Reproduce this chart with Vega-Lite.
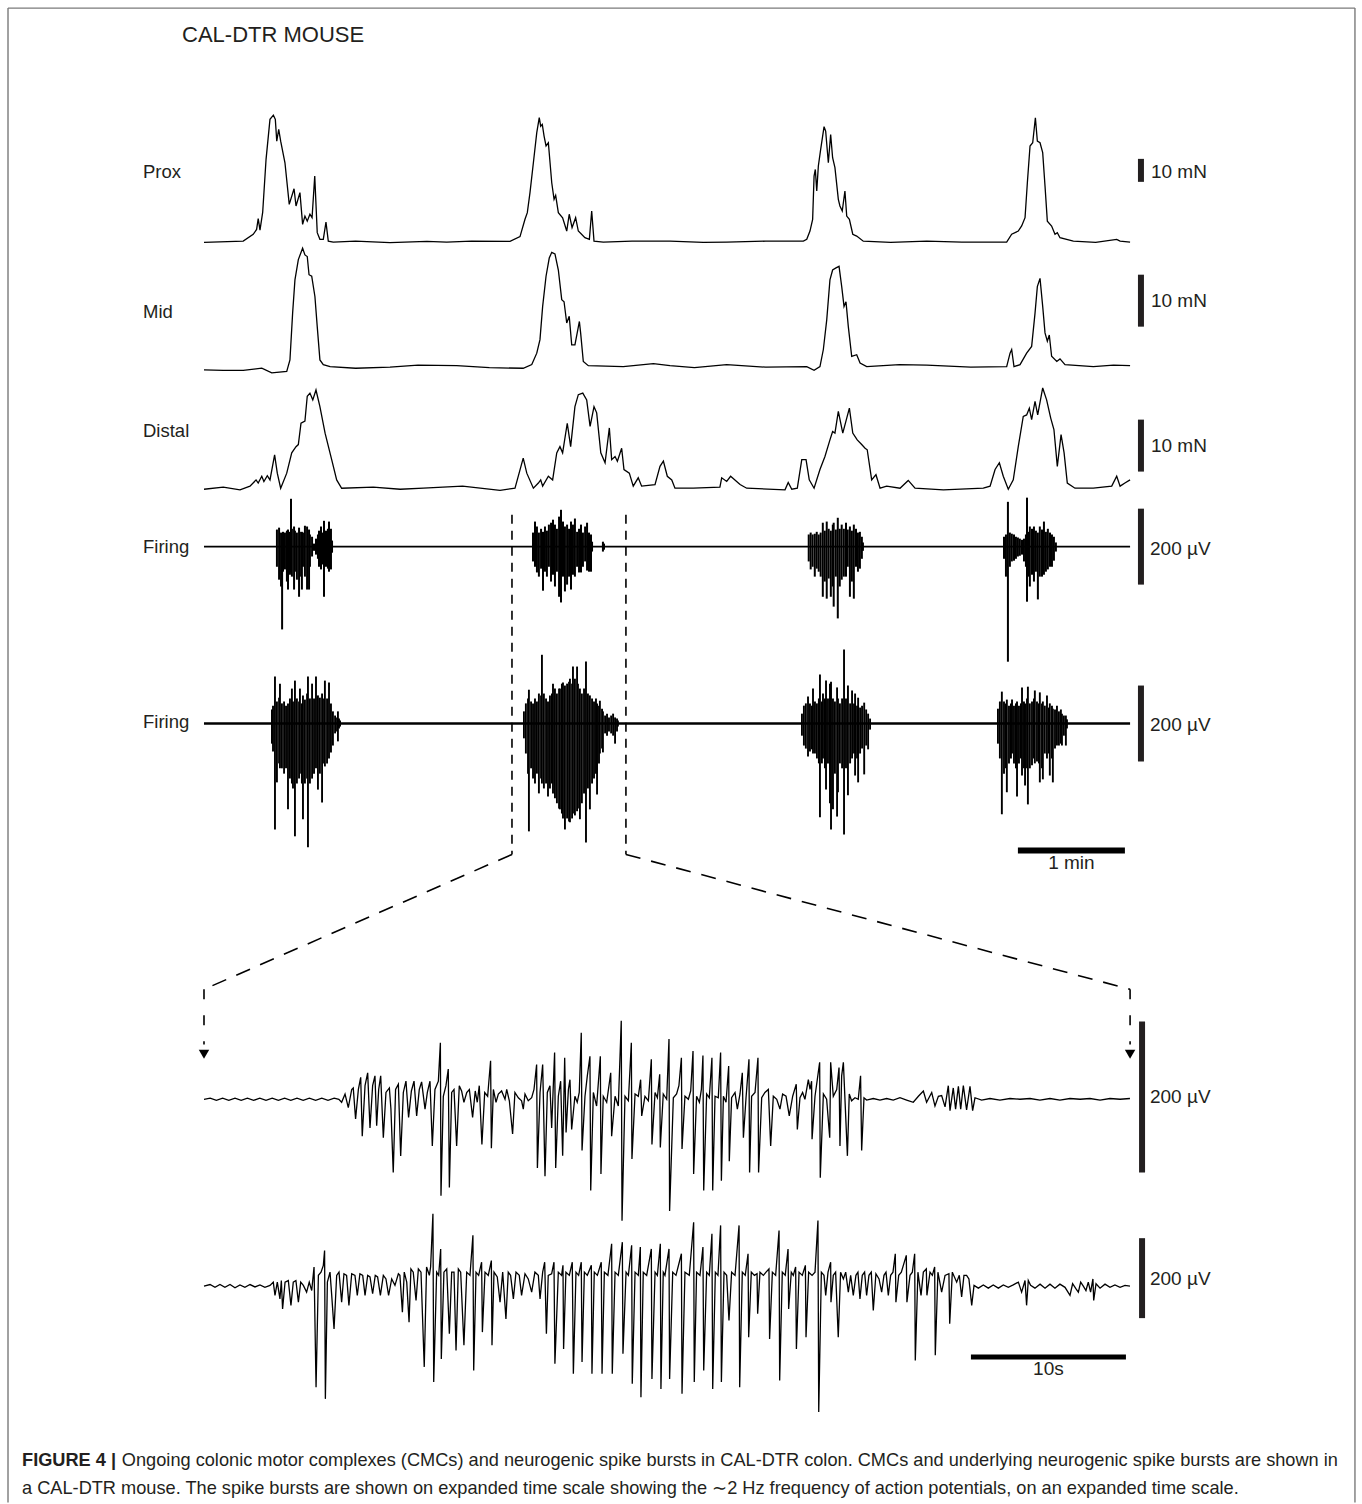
{
"$schema": "https://vega.github.io/schema/vega-lite/v6.json",
"width": 1362, "height": 1504,
"autosize": {"type": "fit", "contains": "padding"},
"padding": 0,
"background": "white",
"config": {"view": {"stroke": null}, "text": {"font": "Liberation Sans", "color": "#231f20"}},
"datasets": {
"prox": [{"t":0,"v":-0.2},{"t":22.0,"v":0.3},{"t":27.6,"v":3.3},{"t":29.5,"v":5.4},{"t":30.4,"v":10.1},{"t":31.4,"v":5.1},{"t":32.9,"v":12.8},{"t":34.8,"v":35.9},{"t":37.0,"v":53.3},{"t":38.9,"v":55.1},{"t":40.0,"v":53.3},{"t":40.8,"v":43.8},{"t":41.9,"v":48.9},{"t":43.0,"v":43.8},{"t":45.4,"v":34.4},{"t":47.8,"v":16.3},{"t":50.5,"v":23.1},{"t":51.6,"v":15.6},{"t":53.8,"v":21.4},{"t":55.3,"v":7.6},{"t":56.6,"v":11.2},{"t":57.9,"v":9.0},{"t":59.4,"v":12.0},{"t":60.6,"v":10.5},{"t":62.1,"v":28.6},{"t":63.5,"v":4.0},{"t":65.0,"v":1.1},{"t":66.9,"v":1.1},{"t":68.4,"v":8.6},{"t":69.7,"v":0.3},{"t":72.5,"v":-0.1},{"t":85,"v":0.3},{"t":104.3,"v":-0.3},{"t":125,"v":0.2},{"t":136.1,"v":-0.1},{"t":150,"v":0.3},{"t":171.6,"v":0.2},{"t":177.2,"v":2.3},{"t":180.0,"v":9.8},{"t":181.3,"v":12.7},{"t":182.8,"v":21.4},{"t":184.7,"v":34.4},{"t":186.6,"v":47.5},{"t":188.0,"v":54.0},{"t":188.8,"v":50.3},{"t":189.7,"v":51.1},{"t":190.7,"v":46.0},{"t":191.8,"v":41.7},{"t":193.1,"v":43.1},{"t":195.0,"v":25.7},{"t":196.3,"v":18.5},{"t":197.2,"v":20.2},{"t":198.7,"v":12.7},{"t":201.1,"v":10.5},{"t":203.4,"v":4.7},{"t":204.8,"v":12.0},{"t":206.4,"v":6.2},{"t":208.4,"v":10.5},{"t":209.9,"v":4.7},{"t":213.6,"v":1.8},{"t":216.1,"v":1.1},{"t":217.4,"v":13.4},{"t":218.7,"v":0.3},{"t":223.9,"v":-0.1},{"t":240,"v":0.3},{"t":261.3,"v":0.3},{"t":280,"v":-0.2},{"t":293.1,"v":-0.1},{"t":315,"v":0.3},{"t":336.1,"v":0.3},{"t":338.0,"v":1.1},{"t":339.8,"v":4.7},{"t":341.3,"v":9.8},{"t":342.1,"v":28.6},{"t":342.8,"v":31.5},{"t":343.6,"v":22.1},{"t":344.5,"v":33.0},{"t":345.8,"v":40.2},{"t":347.7,"v":50.1},{"t":348.6,"v":48.2},{"t":350.1,"v":34.4},{"t":351.4,"v":46.7},{"t":352.5,"v":36.6},{"t":353.8,"v":32.3},{"t":355.7,"v":18.5},{"t":356.6,"v":15.6},{"t":357.9,"v":13.4},{"t":359.4,"v":22.1},{"t":360.4,"v":11.2},{"t":361.9,"v":9.8},{"t":363.8,"v":3.3},{"t":366.0,"v":2.5},{"t":369.7,"v":0.3},{"t":385,"v":-0.2},{"t":405.3,"v":0.3},{"t":425,"v":-0.1},{"t":450.1,"v":-0.1},{"t":452.9,"v":3.3},{"t":456.6,"v":4.7},{"t":458.5,"v":6.9},{"t":460.4,"v":10.5},{"t":461.7,"v":25.7},{"t":463.2,"v":41.7},{"t":464.7,"v":43.1},{"t":466.2,"v":54.0},{"t":467.3,"v":43.8},{"t":468.8,"v":43.1},{"t":470.3,"v":38.8},{"t":471.6,"v":24.3},{"t":472.9,"v":9.0},{"t":475.3,"v":6.9},{"t":477.2,"v":3.3},{"t":478.5,"v":4.0},{"t":480.0,"v":1.8},{"t":487.5,"v":0.3},{"t":500,"v":-0.2},{"t":511.8,"v":1.1},{"t":513.7,"v":0.3},{"t":519.3,"v":-0.1}],
"mid": [{"t":0,"v":-0.2},{"t":10.8,"v":-0.3},{"t":22.0,"v":-0.3},{"t":32.4,"v":0.1},{"t":38.0,"v":-0.8},{"t":46.4,"v":-0.5},{"t":48.2,"v":1.7},{"t":49.7,"v":10.7},{"t":51.0,"v":17.1},{"t":52.9,"v":21.0},{"t":55.3,"v":23.2},{"t":56.6,"v":21.9},{"t":57.9,"v":21.6},{"t":58.9,"v":18.1},{"t":60.4,"v":17.8},{"t":62.2,"v":13.9},{"t":63.5,"v":8.1},{"t":65.0,"v":1.7},{"t":66.9,"v":0.8},{"t":70.7,"v":0.4},{"t":85,"v":0.1},{"t":104.3,"v":0.3},{"t":120,"v":0.7},{"t":141.7,"v":0.6},{"t":160,"v":0.2},{"t":179.0,"v":0.1},{"t":183.8,"v":0.8},{"t":186.6,"v":3.0},{"t":188.4,"v":5.6},{"t":189.9,"v":12.0},{"t":191.8,"v":17.8},{"t":193.6,"v":21.3},{"t":195.0,"v":22.4},{"t":196.8,"v":22.1},{"t":198.7,"v":19.0},{"t":200.6,"v":13.3},{"t":201.9,"v":12.9},{"t":203.4,"v":8.8},{"t":204.8,"v":10.1},{"t":206.2,"v":4.6},{"t":208.0,"v":4.6},{"t":210.5,"v":9.1},{"t":211.2,"v":6.9},{"t":212.7,"v":1.4},{"t":215.5,"v":0.6},{"t":235.1,"v":0.4},{"t":252.0,"v":1.0},{"t":261.3,"v":0.6},{"t":275,"v":0.2},{"t":293.1,"v":0.8},{"t":315,"v":0.3},{"t":338.0,"v":0.4},{"t":342.1,"v":-0.3},{"t":345.4,"v":0.4},{"t":347.3,"v":3.7},{"t":349.2,"v":9.4},{"t":351.0,"v":17.1},{"t":352.5,"v":19.0},{"t":354.4,"v":19.4},{"t":356.1,"v":19.7},{"t":357.6,"v":15.8},{"t":358.9,"v":12.0},{"t":360.0,"v":12.9},{"t":361.3,"v":8.1},{"t":363.2,"v":2.4},{"t":366.0,"v":2.7},{"t":367.9,"v":1.1},{"t":371.6,"v":0.4},{"t":390,"v":0.8},{"t":405.3,"v":0.7},{"t":430,"v":0.3},{"t":450.1,"v":0.4},{"t":452.0,"v":3.0},{"t":452.9,"v":3.7},{"t":454.2,"v":0.4},{"t":457.6,"v":0.8},{"t":461.3,"v":3.0},{"t":464.1,"v":4.3},{"t":466.0,"v":10.7},{"t":467.3,"v":15.8},{"t":468.8,"v":17.4},{"t":470.3,"v":12.0},{"t":471.6,"v":6.9},{"t":472.9,"v":5.3},{"t":474.0,"v":6.5},{"t":475.3,"v":2.4},{"t":478.2,"v":1.4},{"t":480.0,"v":1.9},{"t":482.8,"v":0.8},{"t":498.7,"v":0.4},{"t":510,"v":0.7},{"t":519.3,"v":0.6}],
"distal": [{"t":0,"v":-0.3},{"t":10.8,"v":0.1},{"t":20.2,"v":-0.4},{"t":25.8,"v":0.3},{"t":29.2,"v":1.5},{"t":30.4,"v":0.9},{"t":32.4,"v":2.2},{"t":33.6,"v":1.2},{"t":35.5,"v":2.3},{"t":37.0,"v":1.5},{"t":39.6,"v":6.3},{"t":41.1,"v":2.8},{"t":43.0,"v":-0.1},{"t":46.4,"v":2.8},{"t":49.2,"v":6.7},{"t":51.6,"v":7.9},{"t":52.9,"v":8.3},{"t":54.4,"v":12.4},{"t":56.6,"v":12.8},{"t":57.9,"v":17.6},{"t":59.4,"v":18.2},{"t":61.0,"v":16.9},{"t":62.8,"v":18.8},{"t":65.0,"v":15.6},{"t":67.9,"v":10.5},{"t":71.6,"v":5.4},{"t":74.4,"v":1.5},{"t":77.2,"v":-0.1},{"t":94.9,"v":0.1},{"t":110,"v":-0.3},{"t":123.0,"v":-0.1},{"t":145,"v":0.3},{"t":166.0,"v":-0.5},{"t":174.4,"v":-0.1},{"t":179.0,"v":5.7},{"t":181.0,"v":2.8},{"t":184.7,"v":-0.1},{"t":187.5,"v":0.9},{"t":188.8,"v":1.5},{"t":189.9,"v":0.3},{"t":193.1,"v":2.2},{"t":195.5,"v":1.5},{"t":197.8,"v":6.7},{"t":199.6,"v":7.9},{"t":201.1,"v":6.7},{"t":203.7,"v":12.4},{"t":205.6,"v":7.9},{"t":208.0,"v":15.6},{"t":209.9,"v":17.9},{"t":212.4,"v":18.2},{"t":214.6,"v":16.9},{"t":216.5,"v":11.8},{"t":218.7,"v":15.6},{"t":220.2,"v":14.4},{"t":222.5,"v":6.7},{"t":224.9,"v":4.8},{"t":227.3,"v":11.5},{"t":228.6,"v":5.4},{"t":230.5,"v":6.0},{"t":231.8,"v":5.1},{"t":234.2,"v":7.6},{"t":235.5,"v":3.5},{"t":238.5,"v":2.8},{"t":240.7,"v":0.3},{"t":243.5,"v":1.9},{"t":245.4,"v":0.3},{"t":252.9,"v":0.6},{"t":255.7,"v":4.1},{"t":257.6,"v":5.1},{"t":259.8,"v":2.2},{"t":262.3,"v":1.5},{"t":264.1,"v":-0.1},{"t":274.4,"v":-0.1},{"t":289.3,"v":0.1},{"t":290.3,"v":1.9},{"t":293.1,"v":1.2},{"t":295.3,"v":2.2},{"t":300.6,"v":0.6},{"t":304.3,"v":-0.1},{"t":325.8,"v":-0.4},{"t":327.6,"v":1.0},{"t":329.6,"v":-0.3},{"t":332.7,"v":-0.1},{"t":335.2,"v":5.4},{"t":337.6,"v":5.4},{"t":339.4,"v":1.5},{"t":342.1,"v":-0.1},{"t":345.4,"v":3.5},{"t":348.2,"v":6.0},{"t":351.0,"v":9.2},{"t":352.5,"v":10.8},{"t":353.8,"v":10.5},{"t":355.7,"v":14.7},{"t":358.2,"v":10.5},{"t":361.9,"v":15.3},{"t":363.8,"v":10.5},{"t":366.3,"v":9.2},{"t":368.8,"v":8.3},{"t":370.7,"v":7.6},{"t":371.9,"v":7.3},{"t":374.4,"v":1.5},{"t":376.8,"v":2.5},{"t":379.1,"v":-0.1},{"t":382.8,"v":0.3},{"t":390.3,"v":-0.1},{"t":394.9,"v":1.4},{"t":398.7,"v":-0.1},{"t":414.6,"v":-0.4},{"t":437.0,"v":-0.1},{"t":440.8,"v":0.3},{"t":443.6,"v":3.5},{"t":446.0,"v":4.8},{"t":448.2,"v":2.2},{"t":451.0,"v":-0.3},{"t":453.8,"v":1.5},{"t":456.6,"v":7.9},{"t":459.4,"v":13.7},{"t":461.3,"v":14.0},{"t":462.8,"v":15.3},{"t":464.1,"v":13.1},{"t":466.0,"v":16.6},{"t":467.5,"v":14.0},{"t":470.3,"v":19.2},{"t":472.5,"v":16.9},{"t":474.8,"v":13.4},{"t":476.6,"v":11.2},{"t":478.5,"v":4.1},{"t":480.6,"v":10.2},{"t":482.3,"v":6.7},{"t":484.1,"v":0.9},{"t":488.4,"v":-0.1},{"t":498.7,"v":-0.1},{"t":509.0,"v":0.3},{"t":511.8,"v":2.2},{"t":513.7,"v":0.3},{"t":516.4,"v":0.9},{"t":519.3,"v":1.5}],
"firing1": [{"t":40.9,"hi":45,"lo":-53},{"t":42.1,"hi":50,"lo":-87},{"t":43.2,"hi":37,"lo":-105},{"t":43.8,"hi":21,"lo":-218},{"t":44.3,"hi":39,"lo":-66},{"t":45.4,"hi":37,"lo":-60},{"t":46.5,"hi":42,"lo":-92},{"t":47.1,"hi":45,"lo":-113},{"t":48.2,"hi":39,"lo":-74},{"t":48.8,"hi":126,"lo":-68},{"t":49.3,"hi":47,"lo":-79},{"t":50.5,"hi":53,"lo":-113},{"t":51.0,"hi":42,"lo":-66},{"t":52.1,"hi":37,"lo":-87},{"t":53.3,"hi":50,"lo":-132},{"t":53.8,"hi":39,"lo":-79},{"t":54.9,"hi":39,"lo":-113},{"t":55.5,"hi":37,"lo":-53},{"t":56.6,"hi":55,"lo":-79},{"t":57.8,"hi":53,"lo":-113},{"t":58.9,"hi":45,"lo":-113},{"t":59.4,"hi":32,"lo":-53},{"t":60.6,"hi":26,"lo":-26},{"t":61.7,"hi":8,"lo":-11},{"t":62.8,"hi":21,"lo":-21},{"t":63.9,"hi":32,"lo":-32},{"t":64.5,"hi":42,"lo":-53},{"t":65.6,"hi":53,"lo":-60},{"t":66.7,"hi":37,"lo":-47},{"t":67.3,"hi":68,"lo":-132},{"t":68.4,"hi":42,"lo":-53},{"t":69.5,"hi":47,"lo":-58},{"t":70.1,"hi":66,"lo":-66},{"t":71.2,"hi":47,"lo":-60},{"t":71.8,"hi":16,"lo":-16},
{"t":184.5,"hi":37,"lo":-39},{"t":185.6,"hi":66,"lo":-53},{"t":186.7,"hi":53,"lo":-68},{"t":187.8,"hi":37,"lo":-79},{"t":189.0,"hi":47,"lo":-58},{"t":190.1,"hi":39,"lo":-116},{"t":191.2,"hi":53,"lo":-66},{"t":192.3,"hi":42,"lo":-79},{"t":193.4,"hi":58,"lo":-53},{"t":194.6,"hi":63,"lo":-92},{"t":195.7,"hi":71,"lo":-74},{"t":196.8,"hi":58,"lo":-105},{"t":197.9,"hi":47,"lo":-66},{"t":199.1,"hi":79,"lo":-132},{"t":200.2,"hi":97,"lo":-147},{"t":201.3,"hi":66,"lo":-79},{"t":202.4,"hi":53,"lo":-118},{"t":203.6,"hi":58,"lo":-100},{"t":204.7,"hi":47,"lo":-79},{"t":205.8,"hi":66,"lo":-113},{"t":206.9,"hi":58,"lo":-74},{"t":208.0,"hi":74,"lo":-79},{"t":209.2,"hi":39,"lo":-53},{"t":210.3,"hi":47,"lo":-68},{"t":211.4,"hi":58,"lo":-68},{"t":212.5,"hi":37,"lo":-53},{"t":213.7,"hi":53,"lo":-39},{"t":214.8,"hi":63,"lo":-63},{"t":215.9,"hi":37,"lo":-66},{"t":217.0,"hi":32,"lo":-66},{"t":217.6,"hi":13,"lo":-13},{"t":223.7,"hi":13,"lo":-13},{"t":224.3,"hi":8,"lo":-8},
{"t":339.1,"hi":32,"lo":-39},{"t":340.2,"hi":37,"lo":-60},{"t":341.3,"hi":32,"lo":-53},{"t":342.5,"hi":34,"lo":-79},{"t":343.6,"hi":39,"lo":-58},{"t":344.7,"hi":32,"lo":-66},{"t":345.8,"hi":37,"lo":-79},{"t":347.0,"hi":63,"lo":-132},{"t":348.1,"hi":42,"lo":-92},{"t":349.2,"hi":66,"lo":-137},{"t":350.3,"hi":47,"lo":-84},{"t":351.5,"hi":42,"lo":-132},{"t":352.6,"hi":58,"lo":-105},{"t":353.1,"hi":63,"lo":-158},{"t":354.3,"hi":45,"lo":-79},{"t":355.4,"hi":76,"lo":-189},{"t":356.5,"hi":47,"lo":-105},{"t":357.6,"hi":58,"lo":-87},{"t":358.8,"hi":47,"lo":-79},{"t":360.0,"hi":63,"lo":-79},{"t":361.0,"hi":45,"lo":-53},{"t":362.2,"hi":53,"lo":-132},{"t":363.3,"hi":42,"lo":-92},{"t":364.4,"hi":58,"lo":-137},{"t":365.6,"hi":47,"lo":-53},{"t":366.7,"hi":37,"lo":-66},{"t":367.8,"hi":39,"lo":-58},{"t":368.9,"hi":26,"lo":-32},{"t":369.5,"hi":11,"lo":-11},
{"t":448.6,"hi":26,"lo":-32},{"t":449.7,"hi":32,"lo":-79},{"t":450.8,"hi":118,"lo":-303},{"t":451.9,"hi":37,"lo":-53},{"t":453.0,"hi":34,"lo":-39},{"t":454.2,"hi":32,"lo":-37},{"t":455.3,"hi":26,"lo":-32},{"t":456.4,"hi":24,"lo":-26},{"t":457.5,"hi":21,"lo":-24},{"t":458.7,"hi":18,"lo":-21},{"t":459.8,"hi":21,"lo":-39},{"t":460.9,"hi":32,"lo":-53},{"t":461.5,"hi":129,"lo":-145},{"t":462.6,"hi":39,"lo":-79},{"t":463.1,"hi":53,"lo":-105},{"t":464.3,"hi":47,"lo":-74},{"t":465.4,"hi":53,"lo":-92},{"t":466.5,"hi":42,"lo":-66},{"t":467.6,"hi":37,"lo":-139},{"t":468.7,"hi":53,"lo":-79},{"t":469.9,"hi":45,"lo":-79},{"t":471.0,"hi":66,"lo":-74},{"t":472.1,"hi":39,"lo":-66},{"t":473.2,"hi":47,"lo":-60},{"t":474.4,"hi":37,"lo":-53},{"t":475.5,"hi":32,"lo":-53},{"t":476.6,"hi":26,"lo":-37},{"t":477.7,"hi":11,"lo":-13}],
"firing2": [{"t":38.1,"hi":37,"lo":-53},{"t":38.7,"hi":47,"lo":-74},{"t":39.8,"hi":124,"lo":-279},{"t":40.9,"hi":58,"lo":-155},{"t":42.1,"hi":68,"lo":-105},{"t":42.6,"hi":105,"lo":-118},{"t":43.7,"hi":53,"lo":-118},{"t":44.9,"hi":58,"lo":-132},{"t":46.0,"hi":47,"lo":-118},{"t":47.1,"hi":53,"lo":-226},{"t":48.2,"hi":66,"lo":-145},{"t":49.3,"hi":92,"lo":-158},{"t":49.9,"hi":58,"lo":-171},{"t":51.0,"hi":113,"lo":-297},{"t":52.1,"hi":66,"lo":-158},{"t":53.3,"hi":58,"lo":-145},{"t":53.8,"hi":92,"lo":-132},{"t":54.9,"hi":53,"lo":-158},{"t":55.5,"hi":74,"lo":-252},{"t":56.6,"hi":63,"lo":-158},{"t":57.8,"hi":79,"lo":-145},{"t":58.3,"hi":124,"lo":-326},{"t":59.4,"hi":66,"lo":-158},{"t":60.6,"hi":105,"lo":-145},{"t":61.7,"hi":66,"lo":-132},{"t":62.8,"hi":124,"lo":-118},{"t":63.9,"hi":74,"lo":-174},{"t":65.0,"hi":68,"lo":-132},{"t":66.2,"hi":79,"lo":-208},{"t":67.3,"hi":66,"lo":-105},{"t":67.8,"hi":113,"lo":-113},{"t":69.0,"hi":66,"lo":-105},{"t":70.1,"hi":108,"lo":-92},{"t":71.2,"hi":53,"lo":-76},{"t":72.3,"hi":32,"lo":-58},{"t":73.5,"hi":21,"lo":-26},{"t":74.6,"hi":16,"lo":-21},{"t":75.1,"hi":32,"lo":-47},{"t":75.7,"hi":13,"lo":-13},{"t":76.3,"hi":8,"lo":-8},
{"t":179.4,"hi":32,"lo":-39},{"t":180.5,"hi":53,"lo":-79},{"t":181.7,"hi":66,"lo":-132},{"t":182.2,"hi":89,"lo":-284},{"t":183.4,"hi":58,"lo":-118},{"t":184.5,"hi":53,"lo":-145},{"t":185.6,"hi":66,"lo":-158},{"t":186.7,"hi":58,"lo":-132},{"t":187.8,"hi":79,"lo":-184},{"t":189.0,"hi":74,"lo":-145},{"t":189.5,"hi":181,"lo":-158},{"t":190.6,"hi":79,"lo":-171},{"t":191.8,"hi":66,"lo":-158},{"t":192.9,"hi":58,"lo":-192},{"t":194.0,"hi":74,"lo":-171},{"t":195.1,"hi":79,"lo":-158},{"t":195.7,"hi":105,"lo":-184},{"t":196.8,"hi":92,"lo":-197},{"t":197.9,"hi":79,"lo":-210},{"t":199.1,"hi":92,"lo":-224},{"t":199.6,"hi":92,"lo":-226},{"t":200.7,"hi":105,"lo":-237},{"t":201.3,"hi":108,"lo":-250},{"t":202.4,"hi":100,"lo":-279},{"t":203.6,"hi":105,"lo":-250},{"t":204.7,"hi":110,"lo":-258},{"t":205.2,"hi":118,"lo":-260},{"t":206.4,"hi":105,"lo":-250},{"t":206.9,"hi":150,"lo":-237},{"t":208.0,"hi":118,"lo":-242},{"t":209.2,"hi":150,"lo":-231},{"t":209.7,"hi":105,"lo":-224},{"t":210.8,"hi":92,"lo":-252},{"t":211.9,"hi":79,"lo":-210},{"t":213.1,"hi":92,"lo":-184},{"t":214.2,"hi":163,"lo":-313},{"t":215.3,"hi":79,"lo":-171},{"t":216.4,"hi":74,"lo":-226},{"t":217.6,"hi":66,"lo":-158},{"t":218.7,"hi":58,"lo":-145},{"t":219.8,"hi":66,"lo":-132},{"t":220.4,"hi":53,"lo":-187},{"t":221.5,"hi":47,"lo":-105},{"t":222.0,"hi":60,"lo":-79},{"t":223.2,"hi":39,"lo":-66},{"t":223.7,"hi":32,"lo":-76},{"t":224.9,"hi":21,"lo":-26},{"t":226.0,"hi":26,"lo":-32},{"t":227.1,"hi":16,"lo":-21},{"t":228.3,"hi":21,"lo":-26},{"t":229.4,"hi":26,"lo":-32},{"t":230.5,"hi":16,"lo":-53},{"t":231.6,"hi":13,"lo":-21},{"t":232.1,"hi":8,"lo":-8},
{"t":335.3,"hi":26,"lo":-32},{"t":336.4,"hi":47,"lo":-58},{"t":337.5,"hi":53,"lo":-66},{"t":338.7,"hi":71,"lo":-87},{"t":339.8,"hi":53,"lo":-74},{"t":340.9,"hi":47,"lo":-68},{"t":341.5,"hi":92,"lo":-79},{"t":342.6,"hi":58,"lo":-79},{"t":343.7,"hi":53,"lo":-92},{"t":344.8,"hi":66,"lo":-105},{"t":345.4,"hi":129,"lo":-247},{"t":346.5,"hi":58,"lo":-105},{"t":347.1,"hi":79,"lo":-92},{"t":348.2,"hi":66,"lo":-118},{"t":348.8,"hi":113,"lo":-174},{"t":349.9,"hi":66,"lo":-105},{"t":351.0,"hi":105,"lo":-210},{"t":351.6,"hi":110,"lo":-279},{"t":352.7,"hi":66,"lo":-226},{"t":353.8,"hi":58,"lo":-132},{"t":355.0,"hi":95,"lo":-245},{"t":355.5,"hi":66,"lo":-181},{"t":356.6,"hi":53,"lo":-105},{"t":357.8,"hi":66,"lo":-118},{"t":358.9,"hi":195,"lo":-292},{"t":360.0,"hi":66,"lo":-118},{"t":361.1,"hi":100,"lo":-189},{"t":362.3,"hi":53,"lo":-105},{"t":363.4,"hi":87,"lo":-92},{"t":364.5,"hi":53,"lo":-79},{"t":365.1,"hi":79,"lo":-137},{"t":366.2,"hi":47,"lo":-92},{"t":366.8,"hi":68,"lo":-155},{"t":367.9,"hi":42,"lo":-79},{"t":369.0,"hi":47,"lo":-66},{"t":370.2,"hi":55,"lo":-134},{"t":371.3,"hi":37,"lo":-58},{"t":372.4,"hi":26,"lo":-68},{"t":373.5,"hi":13,"lo":-16},
{"t":445.2,"hi":39,"lo":-53},{"t":446.3,"hi":58,"lo":-92},{"t":447.4,"hi":84,"lo":-239},{"t":448.6,"hi":58,"lo":-132},{"t":449.7,"hi":53,"lo":-118},{"t":450.2,"hi":63,"lo":-181},{"t":451.4,"hi":47,"lo":-105},{"t":452.5,"hi":53,"lo":-92},{"t":453.1,"hi":63,"lo":-79},{"t":454.2,"hi":47,"lo":-105},{"t":455.3,"hi":53,"lo":-118},{"t":455.9,"hi":58,"lo":-192},{"t":457.0,"hi":47,"lo":-105},{"t":458.1,"hi":53,"lo":-92},{"t":458.7,"hi":95,"lo":-137},{"t":459.8,"hi":58,"lo":-118},{"t":460.4,"hi":53,"lo":-163},{"t":461.5,"hi":66,"lo":-118},{"t":462.0,"hi":97,"lo":-213},{"t":463.1,"hi":53,"lo":-118},{"t":464.3,"hi":58,"lo":-110},{"t":465.4,"hi":66,"lo":-92},{"t":465.9,"hi":87,"lo":-105},{"t":467.1,"hi":58,"lo":-100},{"t":468.2,"hi":53,"lo":-105},{"t":468.7,"hi":82,"lo":-155},{"t":469.9,"hi":53,"lo":-118},{"t":470.4,"hi":58,"lo":-147},{"t":471.5,"hi":47,"lo":-79},{"t":472.7,"hi":74,"lo":-92},{"t":473.8,"hi":42,"lo":-79},{"t":474.3,"hi":53,"lo":-137},{"t":475.5,"hi":47,"lo":-92},{"t":476.0,"hi":39,"lo":-155},{"t":477.2,"hi":37,"lo":-66},{"t":478.3,"hi":47,"lo":-58},{"t":479.4,"hi":32,"lo":-58},{"t":480.5,"hi":37,"lo":-53},{"t":481.1,"hi":26,"lo":-58},{"t":482.2,"hi":21,"lo":-32},{"t":483.3,"hi":21,"lo":-58},{"t":483.9,"hi":11,"lo":-13}],
"exp1": [{"t":0,"v":0},{"t":0.4,"v":1.5},{"t":0.8,"v":-1.5},{"t":1.2,"v":1.5},{"t":1.6,"v":-1.5},{"t":2.0,"v":1.5},{"t":2.4,"v":-1.5},{"t":2.8,"v":1.5},{"t":3.2,"v":-1.5},{"t":3.6,"v":1.5},{"t":4.0,"v":-1.5},{"t":4.4,"v":1.5},{"t":4.8,"v":-1.5},{"t":5.2,"v":1.5},{"t":5.6,"v":-1.5},{"t":6.0,"v":1.5},{"t":6.4,"v":-1.5},{"t":6.8,"v":1.5},{"t":7.2,"v":-1.5},{"t":7.6,"v":1.5},{"t":8.0,"v":-1.5},{"t":8.4,"v":1.5},{"t":8.7,"v":0},
{"t":8.88,"v":-4},{"t":9.10,"v":7},{"t":9.31,"v":-11},{"t":9.53,"v":13},{"t":9.63,"v":15},{"t":9.78,"v":-26},{"t":9.96,"v":13},{"t":10.11,"v":29},{"t":10.21,"v":-49},{"t":10.39,"v":18},{"t":10.56,"v":35},{"t":10.71,"v":-38},{"t":10.88,"v":18},{"t":11.03,"v":31},{"t":11.14,"v":-35},{"t":11.27,"v":13},{"t":11.40,"v":31},{"t":11.57,"v":-51},{"t":11.74,"v":9},{"t":11.96,"v":15},{"t":12.06,"v":-13},{"t":12.21,"v":-97},{"t":12.36,"v":13},{"t":12.54,"v":20},{"t":12.69,"v":-75},{"t":12.86,"v":9},{"t":13.03,"v":24},{"t":13.20,"v":-24},{"t":13.38,"v":11},{"t":13.55,"v":24},{"t":13.72,"v":-22},{"t":13.89,"v":13},{"t":14.04,"v":23},{"t":14.26,"v":-13},{"t":14.41,"v":9},{"t":14.58,"v":24},{"t":14.73,"v":-62},{"t":14.90,"v":13},{"t":15.12,"v":24},{"t":15.25,"v":75},{"t":15.29,"v":-128},{"t":15.44,"v":4},{"t":15.61,"v":18},{"t":15.76,"v":40},{"t":15.83,"v":-117},{"t":15.98,"v":9},{"t":16.13,"v":13},{"t":16.30,"v":-62},{"t":16.47,"v":18},{"t":16.62,"v":11},{"t":16.77,"v":-4},{"t":16.95,"v":9},{"t":17.12,"v":13},{"t":17.33,"v":-24},{"t":17.50,"v":11},{"t":17.63,"v":-4},{"t":17.76,"v":18},{"t":17.93,"v":-60},{"t":18.11,"v":9},{"t":18.30,"v":4},{"t":18.49,"v":51},{"t":18.54,"v":-65},{"t":18.67,"v":13},{"t":18.84,"v":-4},{"t":18.99,"v":7},{"t":19.20,"v":11},{"t":19.42,"v":0},{"t":19.53,"v":13},{"t":19.70,"v":-2},{"t":19.91,"v":-46},{"t":20.06,"v":9},{"t":20.28,"v":2},{"t":20.49,"v":-2},{"t":20.60,"v":-13},{"t":20.71,"v":7},{"t":20.92,"v":-2},{"t":21.14,"v":2},{"t":21.29,"v":13},{"t":21.46,"v":46},{"t":21.51,"v":-91},{"t":21.68,"v":9},{"t":21.85,"v":46},{"t":22.00,"v":-102},{"t":22.15,"v":9},{"t":22.32,"v":18},{"t":22.43,"v":-38},{"t":22.62,"v":62},{"t":22.69,"v":-91},{"t":22.86,"v":4},{"t":23.01,"v":24},{"t":23.14,"v":-75},{"t":23.27,"v":55},{"t":23.36,"v":-44},{"t":23.51,"v":13},{"t":23.61,"v":26},{"t":23.72,"v":-40},{"t":23.93,"v":4},{"t":24.08,"v":-4},{"t":24.21,"v":9},{"t":24.34,"v":88},{"t":24.39,"v":-68},{"t":24.58,"v":4},{"t":24.73,"v":31},{"t":24.90,"v":57},{"t":24.95,"v":-121},{"t":25.12,"v":9},{"t":25.33,"v":-9},{"t":25.57,"v":57},{"t":25.61,"v":-99},{"t":25.76,"v":4},{"t":25.98,"v":-4},{"t":26.24,"v":35},{"t":26.30,"v":-49},{"t":26.52,"v":4},{"t":26.73,"v":-9},{"t":26.92,"v":104},{"t":26.97,"v":-161},{"t":27.16,"v":4},{"t":27.38,"v":-2},{"t":27.57,"v":75},{"t":27.61,"v":-79},{"t":27.81,"v":7},{"t":28.02,"v":4},{"t":28.17,"v":26},{"t":28.24,"v":-22},{"t":28.45,"v":4},{"t":28.67,"v":-2},{"t":28.86,"v":53},{"t":28.90,"v":-60},{"t":29.10,"v":9},{"t":29.25,"v":2},{"t":29.40,"v":33},{"t":29.44,"v":-64},{"t":29.63,"v":7},{"t":29.85,"v":0},{"t":30.00,"v":80},{"t":30.04,"v":-148},{"t":30.28,"v":2},{"t":30.49,"v":7},{"t":30.64,"v":18},{"t":30.80,"v":55},{"t":30.84,"v":-66},{"t":31.03,"v":4},{"t":31.25,"v":0},{"t":31.40,"v":11},{"t":31.55,"v":64},{"t":31.59,"v":-99},{"t":31.78,"v":4},{"t":31.96,"v":-4},{"t":32.09,"v":13},{"t":32.19,"v":58},{"t":32.24,"v":-121},{"t":32.43,"v":7},{"t":32.60,"v":2},{"t":32.77,"v":55},{"t":32.82,"v":-121},{"t":32.97,"v":4},{"t":33.18,"v":2},{"t":33.33,"v":62},{"t":33.38,"v":-108},{"t":33.51,"v":4},{"t":33.68,"v":-4},{"t":33.85,"v":44},{"t":33.89,"v":-82},{"t":34.04,"v":2},{"t":34.26,"v":9},{"t":34.41,"v":-13},{"t":34.58,"v":7},{"t":34.73,"v":35},{"t":34.80,"v":-51},{"t":34.97,"v":2},{"t":35.16,"v":53},{"t":35.20,"v":-97},{"t":35.33,"v":4},{"t":35.55,"v":9},{"t":35.74,"v":55},{"t":35.78,"v":-97},{"t":35.98,"v":2},{"t":36.19,"v":9},{"t":36.41,"v":13},{"t":36.56,"v":-62},{"t":36.73,"v":4},{"t":36.95,"v":0},{"t":37.16,"v":-13},{"t":37.33,"v":7},{"t":37.55,"v":4},{"t":37.76,"v":-22},{"t":37.98,"v":4},{"t":38.21,"v":20},{"t":38.28,"v":-40},{"t":38.45,"v":2},{"t":38.62,"v":9},{"t":38.77,"v":0},{"t":38.99,"v":26},{"t":39.10,"v":13},{"t":39.20,"v":24},{"t":39.23,"v":-53},{"t":39.42,"v":4},{"t":39.72,"v":49},{"t":39.76,"v":-104},{"t":39.96,"v":7},{"t":40.17,"v":0},{"t":40.37,"v":-51},{"t":40.43,"v":49},{"t":40.60,"v":4},{"t":40.82,"v":13},{"t":40.97,"v":42},{"t":41.03,"v":-62},{"t":41.14,"v":31},{"t":41.25,"v":49},{"t":41.51,"v":-75},{"t":41.63,"v":7},{"t":41.78,"v":-2},{"t":42.00,"v":2},{"t":42.21,"v":0},{"t":42.36,"v":31},{"t":42.43,"v":-68},{"t":42.58,"v":2},{"t":42.75,"v":-1},{"t":43.18,"v":1},{"t":43.61,"v":-1},{"t":44.04,"v":1},{"t":44.47,"v":-1},{"t":44.90,"v":2},{"t":45.33,"v":-1},{"t":45.76,"v":-4},{"t":46.09,"v":4},{"t":46.41,"v":11},{"t":46.62,"v":-4},{"t":46.95,"v":9},{"t":47.16,"v":-9},{"t":47.38,"v":4},{"t":47.59,"v":5},{"t":47.81,"v":-10},{"t":48.02,"v":18},{"t":48.13,"v":-15},{"t":48.34,"v":15},{"t":48.49,"v":-13},{"t":48.67,"v":17},{"t":48.82,"v":-13},{"t":48.99,"v":18},{"t":49.20,"v":-14},{"t":49.42,"v":17},{"t":49.59,"v":-15},{"t":49.74,"v":2},{"t":50.17,"v":-1},{"t":50.71,"v":1},{"t":51.35,"v":-1},{"t":52.00,"v":1},{"t":52.64,"v":0},{"t":53.29,"v":1},{"t":53.93,"v":-1},{"t":54.58,"v":1},{"t":55.22,"v":-1},{"t":55.87,"v":1},{"t":56.52,"v":0},{"t":57.16,"v":1},{"t":57.81,"v":-1},{"t":58.45,"v":1},{"t":59.10,"v":0},{"t":59.74,"v":1}],
"exp2": [{"t":0,"v":0},{"t":0.39,"v":4},{"t":0.71,"v":-3},{"t":1.03,"v":4},{"t":1.35,"v":-3},{"t":1.68,"v":4},{"t":2.0,"v":-4},{"t":2.32,"v":3},{"t":2.64,"v":-3},{"t":2.97,"v":4},{"t":3.29,"v":-2},{"t":3.61,"v":3},{"t":3.93,"v":-3},{"t":4.26,"v":2},
{"t":4.47,"v":10},{"t":4.58,"v":-23},{"t":4.73,"v":10},{"t":4.90,"v":-32},{"t":4.99,"v":14},{"t":5.07,"v":-57},{"t":5.23,"v":10},{"t":5.44,"v":14},{"t":5.61,"v":-48},{"t":5.76,"v":10},{"t":5.93,"v":14},{"t":6.09,"v":-40},{"t":6.24,"v":10},{"t":6.41,"v":2},{"t":6.62,"v":-15},{"t":6.79,"v":10},{"t":6.95,"v":-11},{"t":7.10,"v":48},{"t":7.23,"v":-253},{"t":7.38,"v":27},{"t":7.55,"v":35},{"t":7.70,"v":52},{"t":7.78,"v":89},{"t":7.83,"v":-282},{"t":7.96,"v":10},{"t":8.13,"v":35},{"t":8.24,"v":-23},{"t":8.39,"v":-107},{"t":8.56,"v":27},{"t":8.71,"v":35},{"t":8.88,"v":-40},{"t":9.03,"v":31},{"t":9.20,"v":27},{"t":9.35,"v":-48},{"t":9.53,"v":31},{"t":9.74,"v":27},{"t":9.89,"v":-23},{"t":10.06,"v":31},{"t":10.24,"v":27},{"t":10.39,"v":-23},{"t":10.56,"v":27},{"t":10.71,"v":23},{"t":10.88,"v":-19},{"t":11.05,"v":27},{"t":11.20,"v":23},{"t":11.38,"v":-23},{"t":11.57,"v":27},{"t":11.74,"v":18},{"t":11.91,"v":-23},{"t":12.11,"v":18},{"t":12.32,"v":2},{"t":12.54,"v":31},{"t":12.64,"v":27},{"t":12.80,"v":-65},{"t":12.92,"v":35},{"t":13.08,"v":10},{"t":13.23,"v":-90},{"t":13.35,"v":43},{"t":13.50,"v":35},{"t":13.68,"v":-36},{"t":13.83,"v":43},{"t":14.00,"v":35},{"t":14.21,"v":-202},{"t":14.36,"v":48},{"t":14.54,"v":27},{"t":14.62,"v":48},{"t":14.77,"v":181},{"t":14.82,"v":-240},{"t":15.01,"v":35},{"t":15.14,"v":27},{"t":15.27,"v":93},{"t":15.31,"v":-182},{"t":15.48,"v":35},{"t":15.66,"v":43},{"t":15.83,"v":-119},{"t":15.98,"v":35},{"t":16.13,"v":35},{"t":16.26,"v":-161},{"t":16.41,"v":43},{"t":16.56,"v":35},{"t":16.77,"v":-148},{"t":16.95,"v":35},{"t":17.16,"v":27},{"t":17.35,"v":127},{"t":17.40,"v":-211},{"t":17.55,"v":35},{"t":17.72,"v":27},{"t":17.91,"v":60},{"t":17.96,"v":-115},{"t":18.13,"v":35},{"t":18.34,"v":27},{"t":18.54,"v":64},{"t":18.58,"v":-148},{"t":18.71,"v":35},{"t":18.92,"v":23},{"t":19.10,"v":-40},{"t":19.27,"v":35},{"t":19.48,"v":-82},{"t":19.63,"v":35},{"t":19.78,"v":27},{"t":19.96,"v":-32},{"t":20.13,"v":35},{"t":20.34,"v":27},{"t":20.49,"v":-23},{"t":20.71,"v":31},{"t":20.92,"v":18},{"t":21.14,"v":-15},{"t":21.35,"v":35},{"t":21.57,"v":27},{"t":21.68,"v":-32},{"t":21.85,"v":35},{"t":21.98,"v":60},{"t":22.09,"v":-119},{"t":22.21,"v":27},{"t":22.43,"v":31},{"t":22.58,"v":60},{"t":22.64,"v":-194},{"t":22.86,"v":35},{"t":23.07,"v":27},{"t":23.16,"v":52},{"t":23.20,"v":-157},{"t":23.35,"v":35},{"t":23.57,"v":27},{"t":23.76,"v":60},{"t":23.83,"v":-219},{"t":24.00,"v":35},{"t":24.17,"v":27},{"t":24.34,"v":60},{"t":24.39,"v":-190},{"t":24.54,"v":35},{"t":24.73,"v":27},{"t":24.99,"v":52},{"t":25.03,"v":-219},{"t":25.18,"v":35},{"t":25.38,"v":27},{"t":25.63,"v":60},{"t":25.68,"v":-219},{"t":25.83,"v":35},{"t":26.06,"v":27},{"t":26.30,"v":106},{"t":26.34,"v":-219},{"t":26.52,"v":35},{"t":26.73,"v":27},{"t":26.99,"v":110},{"t":27.03,"v":-169},{"t":27.23,"v":35},{"t":27.38,"v":27},{"t":27.59,"v":102},{"t":27.63,"v":-244},{"t":27.81,"v":35},{"t":28.02,"v":27},{"t":28.15,"v":98},{"t":28.19,"v":-278},{"t":28.34,"v":35},{"t":28.56,"v":27},{"t":28.86,"v":93},{"t":28.90,"v":-232},{"t":29.10,"v":35},{"t":29.25,"v":27},{"t":29.44,"v":106},{"t":29.48,"v":-257},{"t":29.63,"v":35},{"t":29.74,"v":27},{"t":30.00,"v":93},{"t":30.04,"v":-232},{"t":30.24,"v":35},{"t":30.45,"v":27},{"t":30.80,"v":81},{"t":30.84,"v":-269},{"t":31.03,"v":35},{"t":31.31,"v":27},{"t":31.59,"v":160},{"t":31.63,"v":-240},{"t":31.78,"v":35},{"t":32.00,"v":27},{"t":32.19,"v":98},{"t":32.24,"v":-211},{"t":32.43,"v":35},{"t":32.60,"v":27},{"t":32.77,"v":131},{"t":32.82,"v":-257},{"t":32.99,"v":35},{"t":33.16,"v":27},{"t":33.33,"v":152},{"t":33.38,"v":-240},{"t":33.55,"v":35},{"t":33.72,"v":27},{"t":33.87,"v":-86},{"t":34.04,"v":35},{"t":34.26,"v":27},{"t":34.52,"v":152},{"t":34.56,"v":-253},{"t":34.73,"v":35},{"t":34.92,"v":27},{"t":35.10,"v":81},{"t":35.14,"v":-128},{"t":35.31,"v":35},{"t":35.51,"v":27},{"t":35.68,"v":31},{"t":35.72,"v":-69},{"t":35.87,"v":35},{"t":36.09,"v":27},{"t":36.26,"v":35},{"t":36.45,"v":43},{"t":36.49,"v":-132},{"t":36.67,"v":35},{"t":36.88,"v":27},{"t":37.10,"v":139},{"t":37.14,"v":-236},{"t":37.31,"v":35},{"t":37.50,"v":27},{"t":37.68,"v":93},{"t":37.72,"v":-57},{"t":37.89,"v":35},{"t":38.02,"v":27},{"t":38.17,"v":48},{"t":38.22,"v":-157},{"t":38.39,"v":35},{"t":38.60,"v":27},{"t":38.80,"v":52},{"t":38.84,"v":-128},{"t":39.01,"v":35},{"t":39.23,"v":27},{"t":39.42,"v":35},{"t":39.61,"v":164},{"t":39.66,"v":-315},{"t":39.83,"v":35},{"t":40.00,"v":27},{"t":40.11,"v":-23},{"t":40.26,"v":35},{"t":40.43,"v":60},{"t":40.45,"v":-40},{"t":40.60,"v":27},{"t":40.75,"v":35},{"t":40.92,"v":-128},{"t":41.07,"v":35},{"t":41.25,"v":18},{"t":41.40,"v":35},{"t":41.57,"v":-15},{"t":41.72,"v":27},{"t":41.89,"v":-23},{"t":42.06,"v":27},{"t":42.19,"v":35},{"t":42.32,"v":-32},{"t":42.47,"v":27},{"t":42.62,"v":35},{"t":42.75,"v":-23},{"t":42.90,"v":27},{"t":43.05,"v":35},{"t":43.18,"v":-61},{"t":43.35,"v":31},{"t":43.55,"v":18},{"t":43.72,"v":-15},{"t":43.87,"v":27},{"t":44.00,"v":35},{"t":44.15,"v":-23},{"t":44.30,"v":27},{"t":44.45,"v":35},{"t":44.60,"v":81},{"t":44.64,"v":-40},{"t":44.82,"v":27},{"t":44.99,"v":35},{"t":45.31,"v":77},{"t":45.35,"v":-40},{"t":45.55,"v":27},{"t":45.70,"v":35},{"t":45.85,"v":81},{"t":45.89,"v":-186},{"t":46.06,"v":35},{"t":46.26,"v":-23},{"t":46.41,"v":35},{"t":46.60,"v":43},{"t":46.64,"v":-23},{"t":46.84,"v":35},{"t":46.99,"v":27},{"t":47.14,"v":48},{"t":47.18,"v":-173},{"t":47.35,"v":35},{"t":47.59,"v":-15},{"t":47.81,"v":27},{"t":48.06,"v":31},{"t":48.11,"v":-94},{"t":48.28,"v":35},{"t":48.56,"v":10},{"t":48.73,"v":27},{"t":48.88,"v":-27},{"t":49.03,"v":27},{"t":49.20,"v":27},{"t":49.35,"v":18},{"t":49.53,"v":-48},{"t":49.68,"v":2},{"t":49.96,"v":-5},{"t":50.28,"v":3},{"t":50.60,"v":-5},{"t":50.92,"v":3},{"t":51.25,"v":-5},{"t":51.57,"v":3},{"t":51.89,"v":-3},{"t":52.21,"v":3},{"t":52.54,"v":10},{"t":52.75,"v":-15},{"t":52.97,"v":14},{"t":53.07,"v":-48},{"t":53.18,"v":14},{"t":53.33,"v":2},{"t":53.61,"v":-5},{"t":53.94,"v":5},{"t":54.26,"v":-5},{"t":54.58,"v":5},{"t":54.90,"v":-5},{"t":55.22,"v":5},{"t":55.55,"v":-3},{"t":55.87,"v":-23},{"t":56.04,"v":6},{"t":56.26,"v":-7},{"t":56.41,"v":-15},{"t":56.56,"v":10},{"t":56.73,"v":0},{"t":56.90,"v":-11},{"t":57.05,"v":10},{"t":57.20,"v":-15},{"t":57.35,"v":18},{"t":57.40,"v":-36},{"t":57.55,"v":6},{"t":57.81,"v":-5},{"t":58.13,"v":5},{"t":58.45,"v":-3},{"t":58.77,"v":3},{"t":59.10,"v":-3},{"t":59.42,"v":2},{"t":59.74,"v":0}]
},
"resolve": {"scale": {"x": "independent", "y": "independent"}},
"layer": [
{"layer": [
 {"data": {"name": "prox"}, "mark": {"type": "line", "color": "#000", "strokeWidth": 1.3, "interpolate": "linear"},
  "encoding": {"x": {"field": "t", "type": "quantitative", "scale": {"domain": [-114.39, 649.35], "nice": false, "zero": false}, "axis": null},
               "y": {"field": "v", "type": "quantitative", "scale": {"domain": [-548.7, 105.22], "nice": false, "zero": false}, "axis": null}}},
 {"data": {"values": [{}]}, "mark": {"type": "text", "text": "Prox", "align": "left", "baseline": "middle", "fontSize": 18.5},
  "encoding": {"x": {"datum": -34.2, "type": "quantitative", "scale": {"domain": [-114.39, 649.35], "nice": false, "zero": false}, "axis": null},
               "y": {"datum": 30.4, "type": "quantitative", "scale": {"domain": [-548.7, 105.22], "nice": false, "zero": false}, "axis": null}}},
 {"data": {"values": [{}]}, "mark": {"type": "rule", "color": "#231f20", "strokeWidth": 6},
  "encoding": {"x": {"datum": 525.4, "type": "quantitative", "scale": {"domain": [-114.39, 649.35], "nice": false, "zero": false}, "axis": null},
               "y": {"datum": 26.1, "type": "quantitative", "scale": {"domain": [-548.7, 105.22], "nice": false, "zero": false}, "axis": null},
               "y2": {"datum": 36.1}}},
 {"data": {"values": [{}]}, "mark": {"type": "text", "text": "10 mN", "align": "left", "baseline": "middle", "fontSize": 19},
  "encoding": {"x": {"datum": 531.0, "type": "quantitative", "scale": {"domain": [-114.39, 649.35], "nice": false, "zero": false}, "axis": null},
               "y": {"datum": 30.4, "type": "quantitative", "scale": {"domain": [-548.7, 105.22], "nice": false, "zero": false}, "axis": null}}},
 {"data": {"values": [{}]}, "mark": {"type": "text", "text": "CAL-DTR MOUSE", "align": "left", "baseline": "middle", "fontSize": 22},
  "encoding": {"x": {"datum": -12.3, "type": "quantitative", "scale": {"domain": [-114.39, 649.35], "nice": false, "zero": false}, "axis": null},
               "y": {"datum": 90.0, "type": "quantitative", "scale": {"domain": [-548.7, 105.22], "nice": false, "zero": false}, "axis": null}}},
 {"data": {"values": [{}]}, "mark": {"type": "rule", "color": "#7a7a7a", "strokeWidth": 1.4},
  "encoding": {"x": {"datum": -109.9, "type": "quantitative", "scale": {"domain": [-114.39, 649.35], "nice": false, "zero": false}, "axis": null},
               "x2": {"datum": 645.4},
               "y": {"datum": 101.7, "type": "quantitative", "scale": {"domain": [-548.7, 105.22], "nice": false, "zero": false}, "axis": null}}},
 {"data": {"values": [{}]}, "mark": {"type": "rule", "color": "#7a7a7a", "strokeWidth": 1.4},
  "encoding": {"x": {"datum": -109.9, "type": "quantitative", "scale": {"domain": [-114.39, 649.35], "nice": false, "zero": false}, "axis": null},
               "y": {"datum": 101.7, "type": "quantitative", "scale": {"domain": [-548.7, 105.22], "nice": false, "zero": false}, "axis": null},
               "y2": {"datum": -548.5}}},
 {"data": {"values": [{}]}, "mark": {"type": "rule", "color": "#7a7a7a", "strokeWidth": 1.4},
  "encoding": {"x": {"datum": 645.4, "type": "quantitative", "scale": {"domain": [-114.39, 649.35], "nice": false, "zero": false}, "axis": null},
               "y": {"datum": 101.7, "type": "quantitative", "scale": {"domain": [-548.7, 105.22], "nice": false, "zero": false}, "axis": null},
               "y2": {"datum": -548.5}}}
]},
{"layer": [
 {"data": {"name": "mid"}, "mark": {"type": "line", "color": "#000", "strokeWidth": 1.3},
  "encoding": {"x": {"field": "t", "type": "quantitative", "scale": {"domain": [-114.39, 649.35], "nice": false, "zero": false}, "axis": null},
               "y": {"field": "v", "type": "quantitative", "scale": {"domain": [-218.27, 70.96], "nice": false, "zero": false}, "axis": null}}},
 {"data": {"values": [{}]}, "mark": {"type": "text", "text": "Mid", "align": "left", "baseline": "middle", "fontSize": 18.5},
  "encoding": {"x": {"datum": -34.2, "type": "quantitative", "scale": {"domain": [-114.39, 649.35], "nice": false, "zero": false}, "axis": null},
               "y": {"datum": 11.0, "type": "quantitative", "scale": {"domain": [-218.27, 70.96], "nice": false, "zero": false}, "axis": null}}},
 {"data": {"values": [{}]}, "mark": {"type": "rule", "color": "#231f20", "strokeWidth": 6},
  "encoding": {"x": {"datum": 525.4, "type": "quantitative", "scale": {"domain": [-114.39, 649.35], "nice": false, "zero": false}, "axis": null},
               "y": {"datum": 8.1, "type": "quantitative", "scale": {"domain": [-218.27, 70.96], "nice": false, "zero": false}, "axis": null},
               "y2": {"datum": 18.1}}},
 {"data": {"values": [{}]}, "mark": {"type": "text", "text": "10 mN", "align": "left", "baseline": "middle", "fontSize": 19},
  "encoding": {"x": {"datum": 531.0, "type": "quantitative", "scale": {"domain": [-114.39, 649.35], "nice": false, "zero": false}, "axis": null},
               "y": {"datum": 13.1, "type": "quantitative", "scale": {"domain": [-218.27, 70.96], "nice": false, "zero": false}, "axis": null}}}
]},
{"layer": [
 {"data": {"name": "distal"}, "mark": {"type": "line", "color": "#000", "strokeWidth": 1.3},
  "encoding": {"x": {"field": "t", "type": "quantitative", "scale": {"domain": [-114.39, 649.35], "nice": false, "zero": false}, "axis": null},
               "y": {"field": "v", "type": "quantitative", "scale": {"domain": [-195.38, 93.85], "nice": false, "zero": false}, "axis": null}}},
 {"data": {"values": [{}]}, "mark": {"type": "text", "text": "Distal", "align": "left", "baseline": "middle", "fontSize": 18.5},
  "encoding": {"x": {"datum": -34.2, "type": "quantitative", "scale": {"domain": [-114.39, 649.35], "nice": false, "zero": false}, "axis": null},
               "y": {"datum": 11.0, "type": "quantitative", "scale": {"domain": [-195.38, 93.85], "nice": false, "zero": false}, "axis": null}}},
 {"data": {"values": [{}]}, "mark": {"type": "rule", "color": "#231f20", "strokeWidth": 6},
  "encoding": {"x": {"datum": 525.4, "type": "quantitative", "scale": {"domain": [-114.39, 649.35], "nice": false, "zero": false}, "axis": null},
               "y": {"datum": 3.1, "type": "quantitative", "scale": {"domain": [-195.38, 93.85], "nice": false, "zero": false}, "axis": null},
               "y2": {"datum": 13.1}}},
 {"data": {"values": [{}]}, "mark": {"type": "text", "text": "10 mN", "align": "left", "baseline": "middle", "fontSize": 19},
  "encoding": {"x": {"datum": 531.0, "type": "quantitative", "scale": {"domain": [-114.39, 649.35], "nice": false, "zero": false}, "axis": null},
               "y": {"datum": 8.1, "type": "quantitative", "scale": {"domain": [-195.38, 93.85], "nice": false, "zero": false}, "axis": null}}}
]},
{"layer": [
 {"data": {"values": [{}]}, "mark": {"type": "rule", "color": "#000", "strokeWidth": 1.6},
  "encoding": {"x": {"datum": 0, "type": "quantitative", "scale": {"domain": [-114.39, 649.35], "nice": false, "zero": false}, "axis": null},
               "x2": {"datum": 519.3},
               "y": {"datum": 0, "type": "quantitative", "scale": {"domain": [-2518.42, 1439.47], "nice": false, "zero": false}, "axis": null}}},
 {"data": {"name": "firing1"}, "mark": {"type": "rule", "color": "#000", "strokeWidth": 2},
  "encoding": {"x": {"field": "t", "type": "quantitative", "scale": {"domain": [-114.39, 649.35], "nice": false, "zero": false}, "axis": null},
               "y": {"field": "lo", "type": "quantitative", "scale": {"domain": [-2518.42, 1439.47], "nice": false, "zero": false}, "axis": null},
               "y2": {"field": "hi"}}},
 {"data": {"values": [{}]}, "mark": {"type": "text", "text": "Firing", "align": "left", "baseline": "middle", "fontSize": 18.5},
  "encoding": {"x": {"datum": -34.2, "type": "quantitative", "scale": {"domain": [-114.39, 649.35], "nice": false, "zero": false}, "axis": null},
               "y": {"datum": 0, "type": "quantitative", "scale": {"domain": [-2518.42, 1439.47], "nice": false, "zero": false}, "axis": null}}},
 {"data": {"values": [{}]}, "mark": {"type": "rule", "color": "#231f20", "strokeWidth": 6},
  "encoding": {"x": {"datum": 525.4, "type": "quantitative", "scale": {"domain": [-114.39, 649.35], "nice": false, "zero": false}, "axis": null},
               "y": {"datum": -100, "type": "quantitative", "scale": {"domain": [-2518.42, 1439.47], "nice": false, "zero": false}, "axis": null},
               "y2": {"datum": 100}}},
 {"data": {"values": [{}]}, "mark": {"type": "text", "text": "200 µV", "align": "left", "baseline": "middle", "fontSize": 19},
  "encoding": {"x": {"datum": 530.5, "type": "quantitative", "scale": {"domain": [-114.39, 649.35], "nice": false, "zero": false}, "axis": null},
               "y": {"datum": -5, "type": "quantitative", "scale": {"domain": [-2518.42, 1439.47], "nice": false, "zero": false}, "axis": null}}}
]},
{"layer": [
 {"data": {"values": [{}]}, "mark": {"type": "rule", "color": "#000", "strokeWidth": 2.6},
  "encoding": {"x": {"datum": 0, "type": "quantitative", "scale": {"domain": [-114.39, 649.35], "nice": false, "zero": false}, "axis": null},
               "x2": {"datum": 519.3},
               "y": {"datum": 0, "type": "quantitative", "scale": {"domain": [-2052.63, 1905.26], "nice": false, "zero": false}, "axis": null}}},
 {"data": {"name": "firing2"}, "mark": {"type": "rule", "color": "#000", "strokeWidth": 1.9},
  "encoding": {"x": {"field": "t", "type": "quantitative", "scale": {"domain": [-114.39, 649.35], "nice": false, "zero": false}, "axis": null},
               "y": {"field": "lo", "type": "quantitative", "scale": {"domain": [-2052.63, 1905.26], "nice": false, "zero": false}, "axis": null},
               "y2": {"field": "hi"}}},
 {"data": {"values": [{}]}, "mark": {"type": "text", "text": "Firing", "align": "left", "baseline": "middle", "fontSize": 18.5},
  "encoding": {"x": {"datum": -34.2, "type": "quantitative", "scale": {"domain": [-114.39, 649.35], "nice": false, "zero": false}, "axis": null},
               "y": {"datum": 5, "type": "quantitative", "scale": {"domain": [-2052.63, 1905.26], "nice": false, "zero": false}, "axis": null}}},
 {"data": {"values": [{}]}, "mark": {"type": "rule", "color": "#231f20", "strokeWidth": 6},
  "encoding": {"x": {"datum": 525.4, "type": "quantitative", "scale": {"domain": [-114.39, 649.35], "nice": false, "zero": false}, "axis": null},
               "y": {"datum": -100, "type": "quantitative", "scale": {"domain": [-2052.63, 1905.26], "nice": false, "zero": false}, "axis": null},
               "y2": {"datum": 100}}},
 {"data": {"values": [{}]}, "mark": {"type": "text", "text": "200 µV", "align": "left", "baseline": "middle", "fontSize": 19},
  "encoding": {"x": {"datum": 530.5, "type": "quantitative", "scale": {"domain": [-114.39, 649.35], "nice": false, "zero": false}, "axis": null},
               "y": {"datum": -3, "type": "quantitative", "scale": {"domain": [-2052.63, 1905.26], "nice": false, "zero": false}, "axis": null}}},
 {"data": {"values": [{}]}, "mark": {"type": "rule", "color": "#000", "strokeWidth": 6},
  "encoding": {"x": {"datum": 456.4, "type": "quantitative", "scale": {"domain": [-114.39, 649.35], "nice": false, "zero": false}, "axis": null},
               "x2": {"datum": 516.4},
               "y": {"datum": -334.2, "type": "quantitative", "scale": {"domain": [-2052.63, 1905.26], "nice": false, "zero": false}, "axis": null}}},
 {"data": {"values": [{}]}, "mark": {"type": "text", "text": "1 min", "align": "center", "baseline": "middle", "fontSize": 19},
  "encoding": {"x": {"datum": 486.4, "type": "quantitative", "scale": {"domain": [-114.39, 649.35], "nice": false, "zero": false}, "axis": null},
               "y": {"datum": -367, "type": "quantitative", "scale": {"domain": [-2052.63, 1905.26], "nice": false, "zero": false}, "axis": null}}},
 {"data": {"values": [{}]}, "mark": {"type": "rule", "color": "#000", "strokeWidth": 1.6, "strokeDash": [9, 7]},
  "encoding": {"x": {"datum": 172.7, "type": "quantitative", "scale": {"domain": [-114.39, 649.35], "nice": false, "zero": false}, "axis": null},
               "y": {"datum": 550, "type": "quantitative", "scale": {"domain": [-2052.63, 1905.26], "nice": false, "zero": false}, "axis": null},
               "y2": {"datum": -344.7}}},
 {"data": {"values": [{}]}, "mark": {"type": "rule", "color": "#000", "strokeWidth": 1.6, "strokeDash": [9, 7]},
  "encoding": {"x": {"datum": 236.6, "type": "quantitative", "scale": {"domain": [-114.39, 649.35], "nice": false, "zero": false}, "axis": null},
               "y": {"datum": 550, "type": "quantitative", "scale": {"domain": [-2052.63, 1905.26], "nice": false, "zero": false}, "axis": null},
               "y2": {"datum": -344.7}}},
 {"data": {"values": [{}]}, "mark": {"type": "rule", "color": "#000", "strokeWidth": 1.6, "strokeDash": [15, 11]},
  "encoding": {"x": {"datum": 172.7, "type": "quantitative", "scale": {"domain": [-114.39, 649.35], "nice": false, "zero": false}, "axis": null},
               "x2": {"datum": 0},
               "y": {"datum": -344.7, "type": "quantitative", "scale": {"domain": [-2052.63, 1905.26], "nice": false, "zero": false}, "axis": null},
               "y2": {"datum": -700}}},
 {"data": {"values": [{}]}, "mark": {"type": "rule", "color": "#000", "strokeWidth": 1.6, "strokeDash": [15, 11]},
  "encoding": {"x": {"datum": 236.6, "type": "quantitative", "scale": {"domain": [-114.39, 649.35], "nice": false, "zero": false}, "axis": null},
               "x2": {"datum": 519.3},
               "y": {"datum": -344.7, "type": "quantitative", "scale": {"domain": [-2052.63, 1905.26], "nice": false, "zero": false}, "axis": null},
               "y2": {"datum": -700}}},
 {"data": {"values": [{}]}, "mark": {"type": "rule", "color": "#000", "strokeWidth": 1.6, "strokeDash": [10, 16]},
  "encoding": {"x": {"datum": 0, "type": "quantitative", "scale": {"domain": [-114.39, 649.35], "nice": false, "zero": false}, "axis": null},
               "y": {"datum": -700, "type": "quantitative", "scale": {"domain": [-2052.63, 1905.26], "nice": false, "zero": false}, "axis": null},
               "y2": {"datum": -845}}},
 {"data": {"values": [{}]}, "mark": {"type": "rule", "color": "#000", "strokeWidth": 1.6, "strokeDash": [10, 16]},
  "encoding": {"x": {"datum": 519.3, "type": "quantitative", "scale": {"domain": [-114.39, 649.35], "nice": false, "zero": false}, "axis": null},
               "y": {"datum": -700, "type": "quantitative", "scale": {"domain": [-2052.63, 1905.26], "nice": false, "zero": false}, "axis": null},
               "y2": {"datum": -845}}},
 {"data": {"values": [{}]}, "mark": {"type": "point", "shape": "triangle-down", "filled": true, "color": "#000", "size": 110, "opacity": 1},
  "encoding": {"x": {"datum": 0, "type": "quantitative", "scale": {"domain": [-114.39, 649.35], "nice": false, "zero": false}, "axis": null},
               "y": {"datum": -871, "type": "quantitative", "scale": {"domain": [-2052.63, 1905.26], "nice": false, "zero": false}, "axis": null}}},
 {"data": {"values": [{}]}, "mark": {"type": "point", "shape": "triangle-down", "filled": true, "color": "#000", "size": 110, "opacity": 1},
  "encoding": {"x": {"datum": 519.3, "type": "quantitative", "scale": {"domain": [-114.39, 649.35], "nice": false, "zero": false}, "axis": null},
               "y": {"datum": -871, "type": "quantitative", "scale": {"domain": [-2052.63, 1905.26], "nice": false, "zero": false}, "axis": null}}}
]},
{"layer": [
 {"data": {"name": "exp1"}, "mark": {"type": "line", "color": "#000", "strokeWidth": 1.3},
  "encoding": {"x": {"field": "t", "type": "quantitative", "scale": {"domain": [-13.161, 74.71], "nice": false, "zero": false}, "axis": null},
               "y": {"field": "v", "type": "quantitative", "scale": {"domain": [-535.1, 1456.95], "nice": false, "zero": false}, "axis": null}}},
 {"data": {"values": [{}]}, "mark": {"type": "rule", "color": "#231f20", "strokeWidth": 6},
  "encoding": {"x": {"datum": 60.52, "type": "quantitative", "scale": {"domain": [-13.161, 74.71], "nice": false, "zero": false}, "axis": null},
               "y": {"datum": -97, "type": "quantitative", "scale": {"domain": [-535.1, 1456.95], "nice": false, "zero": false}, "axis": null},
               "y2": {"datum": 103}}},
 {"data": {"values": [{}]}, "mark": {"type": "text", "text": "200 µV", "align": "left", "baseline": "middle", "fontSize": 19},
  "encoding": {"x": {"datum": 61.03, "type": "quantitative", "scale": {"domain": [-13.161, 74.71], "nice": false, "zero": false}, "axis": null},
               "y": {"datum": 2.6, "type": "quantitative", "scale": {"domain": [-535.1, 1456.95], "nice": false, "zero": false}, "axis": null}}}
]},
{"layer": [
 {"data": {"name": "exp2"}, "mark": {"type": "line", "color": "#000", "strokeWidth": 1.3},
  "encoding": {"x": {"field": "t", "type": "quantitative", "scale": {"domain": [-13.161, 74.71], "nice": false, "zero": false}, "axis": null},
               "y": {"field": "v", "type": "quantitative", "scale": {"domain": [-542.5, 3217.5], "nice": false, "zero": false}, "axis": null}}},
 {"data": {"values": [{}]}, "mark": {"type": "rule", "color": "#231f20", "strokeWidth": 6},
  "encoding": {"x": {"datum": 60.52, "type": "quantitative", "scale": {"domain": [-13.161, 74.71], "nice": false, "zero": false}, "axis": null},
               "y": {"datum": -80, "type": "quantitative", "scale": {"domain": [-542.5, 3217.5], "nice": false, "zero": false}, "axis": null},
               "y2": {"datum": 120}}},
 {"data": {"values": [{}]}, "mark": {"type": "text", "text": "200 µV", "align": "left", "baseline": "middle", "fontSize": 19},
  "encoding": {"x": {"datum": 61.03, "type": "quantitative", "scale": {"domain": [-13.161, 74.71], "nice": false, "zero": false}, "axis": null},
               "y": {"datum": 17.5, "type": "quantitative", "scale": {"domain": [-542.5, 3217.5], "nice": false, "zero": false}, "axis": null}}},
 {"data": {"values": [{}]}, "mark": {"type": "rule", "color": "#000", "strokeWidth": 5},
  "encoding": {"x": {"datum": 49.48, "type": "quantitative", "scale": {"domain": [-13.161, 74.71], "nice": false, "zero": false}, "axis": null},
               "x2": {"datum": 59.48},
               "y": {"datum": -177.5, "type": "quantitative", "scale": {"domain": [-542.5, 3217.5], "nice": false, "zero": false}, "axis": null}}},
 {"data": {"values": [{}]}, "mark": {"type": "text", "text": "10s", "align": "center", "baseline": "middle", "fontSize": 19},
  "encoding": {"x": {"datum": 54.48, "type": "quantitative", "scale": {"domain": [-13.161, 74.71], "nice": false, "zero": false}, "axis": null},
               "y": {"datum": -207, "type": "quantitative", "scale": {"domain": [-542.5, 3217.5], "nice": false, "zero": false}, "axis": null}}},
 {"data": {"values": [{}]}, "mark": {"type": "text", "text": "FIGURE 4 |", "align": "left", "baseline": "middle", "fontSize": 18.2, "fontWeight": "bold", "font": "Liberation Sans Narrow, Liberation Sans"},
  "encoding": {"x": {"datum": -11.74, "type": "quantitative", "scale": {"domain": [-13.161, 74.71], "nice": false, "zero": false}, "axis": null},
               "y": {"datum": -438, "type": "quantitative", "scale": {"domain": [-542.5, 3217.5], "nice": false, "zero": false}, "axis": null}}},
 {"data": {"values": [{}]}, "mark": {"type": "text", "text": "Ongoing colonic motor complexes (CMCs) and neurogenic spike bursts in CAL-DTR colon. CMCs and underlying neurogenic spike bursts are shown in", "align": "left", "baseline": "middle", "fontSize": 18.2, "font": "Liberation Sans Narrow, Liberation Sans"},
  "encoding": {"x": {"datum": -5.3, "type": "quantitative", "scale": {"domain": [-13.161, 74.71], "nice": false, "zero": false}, "axis": null},
               "y": {"datum": -438, "type": "quantitative", "scale": {"domain": [-542.5, 3217.5], "nice": false, "zero": false}, "axis": null}}},
 {"data": {"values": [{}]}, "mark": {"type": "text", "text": "a CAL-DTR mouse. The spike bursts are shown on expanded time scale showing the ∼2 Hz frequency of action potentials, on an expanded time scale.", "align": "left", "baseline": "middle", "fontSize": 18.2, "font": "Liberation Sans Narrow, Liberation Sans"},
  "encoding": {"x": {"datum": -11.74, "type": "quantitative", "scale": {"domain": [-13.161, 74.71], "nice": false, "zero": false}, "axis": null},
               "y": {"datum": -508, "type": "quantitative", "scale": {"domain": [-542.5, 3217.5], "nice": false, "zero": false}, "axis": null}}}
]}
]
}
